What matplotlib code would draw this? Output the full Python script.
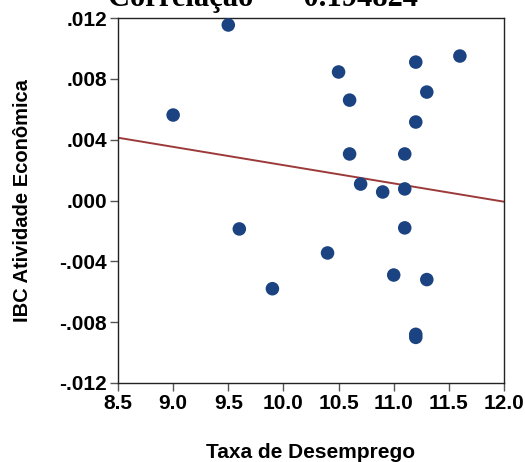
import numpy as np
import matplotlib
matplotlib.use("Agg")
import matplotlib.pyplot as plt

# Data
desemprego = [9.0, 9.5, 10.5, 10.6, 10.6, 10.7, 10.9, 11.1, 11.1, 11.2, 11.3, 11.2, 11.6,
              9.6, 11.1, 10.4, 9.9, 11.0, 11.3, 11.2, 11.2]
ibc = [0.00562, 0.01154, 0.00845, 0.0066, 0.00306, 0.00108, 0.00056, 0.00076, 0.00306,
       0.0091, 0.00713, 0.00516, 0.0095,
       -0.00187, -0.0018, -0.00345, -0.0058, -0.0049, -0.0052, -0.0088, -0.0090]
titulo = "Correlação = - 0.194824"
xticks = [8.5, 9.0, 9.5, 10.0, 10.5, 11.0, 11.5, 12.0]
yticks = [-0.012, -0.008, -0.004, 0.000, 0.004, 0.008, 0.012]
ytick_labels = ["-.012", "-.008", "-.004", ".000", ".004", ".008", ".012"]

fig = plt.figure(figsize=(5.25, 4.62), dpi=100)
ax = fig.add_axes([118/525, 79/462, 386/525, 365/462])

x = np.array(desemprego)
y = np.array(ibc)
b, a = np.polyfit(x, y, 1)
xl = np.array([8.5, 12.0])
ax.plot(xl, a + b * xl, color="#9c3a3a", lw=1.4, zorder=2)
ax.scatter(x, y, s=95, color="#1b4281", edgecolors="none", zorder=3)

ax.set_xlim(8.5, 12.0)
ax.set_ylim(-0.012, 0.012)
ax.set_xticks(xticks)
ax.set_xticklabels([f"{t:.1f}" for t in xticks])
ax.set_yticks(yticks)
ax.set_yticklabels(ytick_labels)

font = "Liberation Sans"
for lab in ax.get_xticklabels() + ax.get_yticklabels():
    lab.set_fontfamily(font)
    lab.set_fontweight("bold")
    lab.set_fontsize(15)
ax.tick_params(axis="both", direction="out", length=6, width=1, color="#555555", pad=2)
for s in ax.spines.values():
    s.set_linewidth(1.0)
    s.set_color("#222222")

ax.set_xlabel("Taxa de Desemprego", fontfamily=font, fontweight="bold", fontsize=15)
ax.set_ylabel("IBC Atividade Econômica", fontfamily=font, fontweight="bold", fontsize=14.5)
ax.xaxis.set_label_coords(0.5, -0.164)
ax.yaxis.set_label_coords(-0.2228, 0.5)

fig.text(0.5, (462 - 6) / 462, titulo, ha="center", va="baseline",
         fontfamily="Liberation Serif", fontweight="bold", fontsize=22)

fig.savefig("out.png", dpi=100)
